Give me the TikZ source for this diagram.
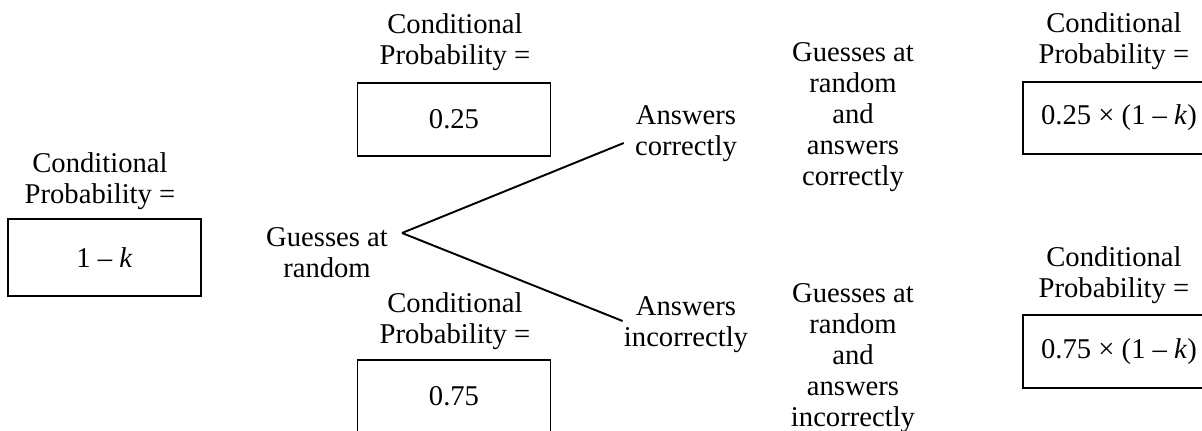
\documentclass[tikz,border=0pt]{standalone}
\usepackage{fontspec}
\setmainfont{Liberation Serif}
\usepackage{tikz}
\usetikzlibrary{positioning}
\tikzset{
  probbox/.style={
    rectangle, draw=black, line width=1.1pt,
    minimum width=3.86cm, minimum height=1.46cm,
    inner sep=0pt, font=\probfont},
  problabel/.style={
    align=center, inner sep=0pt, font=\probfont},
  steptext/.style={
    align=center, inner sep=2pt, font=\probfont},
  branch/.style={line width=1.1pt, color=black}
}
\newcommand{\probfont}{\fontsize{16.3}{17.6}\selectfont}

\begin{document}
\begin{tikzpicture}

  \useasboundingbox[clip] (0,0) rectangle (24.04,-8.6);

  %% Stage 1: guessing
  \node[probbox, minimum height=1.54cm] (guessbox) at (2.09,-5.15) {1 – \textit{k}};
  \node[problabel] (guesslabel) at (2.0,-3.62) {Conditional\\Probability =};
  \node[steptext] (guess) at (6.54,-5.06) {Guesses at\\random};
  \coordinate (fork) at (8.04,-4.66);

  %% Stage 2: answer
  \node[probbox] (rightbox) at (9.08,-2.39) {0.25};
  \node[problabel] (rightlabel) at (9.1,-0.85) {Conditional\\Probability =};
  \node[probbox] (wrongbox) at (9.08,-7.93) {0.75};
  \node[problabel] (wronglabel) at (9.1,-6.42) {Conditional\\Probability =};

  \node[steptext] (correct) at (13.72,-2.68) {Answers\\correctly};
  \node[steptext] (incorrect) at (13.72,-6.5) {Answers\\incorrectly};

  %% Stage 3: joint outcomes
  \node[steptext] (jointright) at (17.06,-2.34)
    {Guesses at\\random\\and\\answers\\correctly};
  \node[steptext] (jointwrong) at (17.06,-7.16)
    {Guesses at\\random\\and\\answers\\incorrectly};

  \node[probbox, minimum width=3.84cm, minimum height=1.44cm]
    (jointrightbox) at (22.38,-2.36) {0.25 × (1 – \textit{k})};
  \node[problabel] (jointrightlabel) at (22.28,-0.83) {Conditional\\Probability =};
  \node[probbox, minimum width=3.84cm, minimum height=1.46cm]
    (jointwrongbox) at (22.38,-7.03) {0.75 × (1 – \textit{k})};
  \node[problabel] (jointwronglabel) at (22.28,-5.5) {Conditional\\Probability =};

  %% Branches
  \draw[branch] (fork) -- ([xshift=-0.15cm, yshift=-0.18cm]correct.west);
  \draw[branch] (fork) -- ([xshift=0.05cm, yshift=0.08cm]incorrect.west);

\end{tikzpicture}
\end{document}
